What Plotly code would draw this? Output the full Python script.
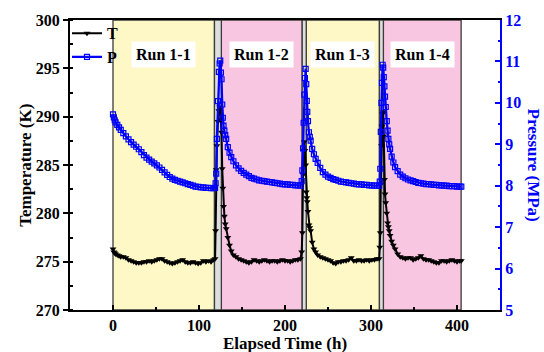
import plotly.graph_objects as go

# ---------------- data ----------------
hours = [
    0, 1, 2, 3, 5, 7, 9, 12, 15, 18, 21, 24, 27, 30, 33, 36, 39, 42, 45, 48,
    51, 54, 57, 60, 63, 66, 69, 72, 75, 78, 81, 84, 87, 90, 93, 96, 99, 102,
    105, 108, 111, 114, 117, 118.7,
    119.3, 120.0, 120.8, 122.0, 123.1, 124.0, 124.7, 125.5, 126.2, 127.0,
    127.7, 128.5, 129.5, 130.5, 131.6, 133.5, 135.5, 137.5, 140, 143, 146,
    149, 152, 155, 158, 161, 164, 167, 170, 173, 176, 179, 182, 185, 188,
    191, 194, 197, 200, 203, 206, 209, 212, 215, 218, 219.4,
    220.2, 221.0, 221.7, 222.5, 223.2, 224.0, 224.7, 225.3, 225.9, 226.7,
    227.8, 228.8, 229.8, 231.6, 233.6, 235.6, 238, 241, 244, 247, 250, 253,
    256, 259, 262, 265, 268, 271, 274, 277, 280, 283, 286, 289, 292, 295,
    298, 301, 304, 307, 309.5,
    310.2, 310.8, 311.4, 312.2, 312.8, 313.5, 314.2, 314.8, 315.6, 316.3,
    317.1, 318.3, 319.3, 320.2, 321.2, 322.2, 324, 326, 328, 331, 334, 337,
    340, 343, 346, 349, 352, 355, 358, 361, 364, 367, 370, 373, 376, 379,
    382, 385, 388, 391, 394, 397, 400, 403, 405,
]

temperature = [
    276.3, 276.0, 275.9, 275.8, 275.7, 275.6, 275.5, 275.5, 275.4, 275.2,
    275.1, 275.0, 274.9, 274.9, 274.9, 275.0, 275.0, 275.1, 275.0, 275.1,
    275.2, 275.3, 275.3, 275.1, 275.0, 274.9, 274.8, 274.9, 275.0, 275.1,
    275.2, 275.0, 274.9, 274.9, 275.0, 274.9, 274.8, 274.9, 275.1, 275.0,
    275.1, 275.0, 275.2, 275.3,
    278.2, 284.5, 287.0, 289.5, 290.6, 291.0, 290.8, 289.7, 288.4, 284.6,
    282.6, 280.7, 279.7, 278.9, 278.4, 277.5, 276.7, 276.1, 275.7, 275.5,
    275.3, 275.2, 275.1, 275.0, 274.9, 275.0, 275.2, 275.1, 275.0, 275.1,
    275.2, 275.1, 275.0, 275.1, 275.1, 275.0, 275.1, 275.2, 275.1, 275.1,
    275.0, 275.1, 275.2, 275.2, 275.3, 276.0,
    278.0, 284.0, 286.5, 287.4, 286.5, 285.0, 282.2, 281.6, 281.2, 280.2,
    278.8, 278.5, 278.2, 277.0, 276.3, 276.0, 275.7, 275.5, 275.4, 275.3,
    275.2, 275.1, 274.9, 274.8, 275.0, 275.0, 275.1, 275.1, 275.2, 275.4,
    275.1, 275.1, 275.2, 275.1, 275.1, 275.2, 275.1, 275.2, 275.2, 275.3,
    275.3,
    276.5, 278.0, 283.0, 287.0, 289.0, 290.3, 290.5, 288.0, 283.5, 282.0,
    281.1, 280.0, 279.0, 278.6, 278.2, 277.7, 277.1, 276.7, 276.3, 275.8,
    275.5, 275.4, 275.3, 275.4, 275.4, 275.2, 275.3, 275.4, 275.6, 275.3,
    275.2, 275.2, 275.1, 275.0, 274.9, 274.9, 275.1, 275.1, 275.0, 275.1,
    275.2, 275.1, 275.0, 275.1, 275.1,
]

pressure = [
    9.72, 9.65, 9.58, 9.53, 9.47, 9.41, 9.35, 9.27, 9.19, 9.12, 9.05, 8.99,
    8.94, 8.88, 8.81, 8.74, 8.68, 8.63, 8.58, 8.54, 8.49, 8.44, 8.38, 8.32,
    8.26, 8.21, 8.17, 8.14, 8.12, 8.10, 8.08, 8.06, 8.04, 8.02, 8.00, 7.98,
    7.97, 7.96, 7.96, 7.95, 7.95, 7.94, 7.94, 7.95,
    8.06, 8.29, 9.13, 10.04, 10.75, 10.95, 11.02, 10.73, 10.57, 9.96, 9.64,
    9.45, 9.33, 9.22, 9.13, 8.93, 8.80, 8.69, 8.59, 8.49, 8.42, 8.36, 8.31,
    8.27, 8.23, 8.19, 8.17, 8.15, 8.13, 8.12, 8.11, 8.10, 8.09, 8.08, 8.07,
    8.06, 8.05, 8.04, 8.03, 8.03, 8.02, 8.02, 8.01, 8.01, 8.00, 8.11,
    8.37, 8.90, 9.52, 10.20, 10.60, 10.82, 10.45, 10.05, 9.78, 9.56, 9.29,
    9.18, 9.09, 8.89, 8.76, 8.65, 8.55, 8.43, 8.33, 8.27, 8.22, 8.19, 8.16,
    8.14, 8.12, 8.10, 8.09, 8.08, 8.07, 8.06, 8.05, 8.04, 8.03, 8.03, 8.02,
    8.02, 8.01, 8.01, 8.00, 8.00, 8.00,
    8.10, 8.41, 9.30, 10.00, 10.48, 10.92, 10.85, 10.62, 10.40, 10.15, 9.90,
    9.56, 9.33, 9.13, 9.00, 8.89, 8.70, 8.56, 8.45, 8.35, 8.27, 8.22, 8.18,
    8.15, 8.13, 8.11, 8.09, 8.07, 8.06, 8.05, 8.04, 8.04, 8.03, 8.02, 8.02,
    8.01, 8.01, 8.00, 8.00, 7.99, 7.99, 7.99, 7.98, 7.98, 7.98,
]

run_labels = ["Run 1-1", "Run 1-2", "Run 1-3", "Run 1-4"]
run_starts = [0, 126, 224.7, 314.4]
run_ends = [118, 220, 309.8, 404.8]
run_colors = ["#FEF7C6", "#F8C6E1", "#FEF7C6", "#F8C6E1"]

x_range = [-50, 450]
t_range = [270, 300]
p_range = [5, 12]

# ---------------- figure ----------------
FONT = "Liberation Serif"
BLUE = "#0000FF"

fig = go.Figure()

fig.add_trace(go.Scatter(
    x=hours, y=temperature, name="T", mode="lines+markers",
    line=dict(color="black", width=2),
    marker=dict(symbol="triangle-down", size=6, color="black"),
))
fig.add_trace(go.Scatter(
    x=hours, y=pressure, name="P", mode="lines+markers", yaxis="y2",
    line=dict(color=BLUE, width=2.3),
    marker=dict(symbol="square-open", size=5, color=BLUE,
                line=dict(width=1.2, color=BLUE)),
))

shapes = []
for s, e, c in zip(run_starts, run_ends, run_colors):
    shapes.append(dict(type="rect", xref="x", yref="paper", x0=s, x1=e,
                       y0=0, y1=1, fillcolor=c, layer="below",
                       line=dict(color="#3c3c3c", width=1.3)))
for e, s in zip(run_ends[:-1], run_starts[1:]):
    shapes.append(dict(type="rect", xref="x", yref="paper", x0=e, x1=s,
                       y0=0, y1=1, fillcolor="#DEDEDE", layer="below",
                       line=dict(color="#3c3c3c", width=1.3)))

annotations = []
for lab, s, e in zip(run_labels, run_starts, run_ends):
    annotations.append(dict(
        x=(s + e) / 2, y=0.882, xref="x", yref="paper", text="<b>%s</b>" % lab,
        xanchor="center", yanchor="middle",
        showarrow=False, bgcolor="white", borderpad=4,
        font=dict(family=FONT, size=16, color="black"),
    ))
annotations += [
    dict(x=-0.105, y=0.5, xref="paper", yref="paper", textangle=-90,
         xanchor="center", yanchor="middle",
         text="<b>Temperature (K)</b>", showarrow=False,
         font=dict(family=FONT, size=17, color="black")),
    dict(x=1.08, y=0.5, xref="paper", yref="paper", textangle=90,
         xanchor="center", yanchor="middle",
         text="<b>Pressure (MPa)</b>", showarrow=False,
         font=dict(family=FONT, size=17, color=BLUE)),
    dict(x=0.5, y=-0.116, xref="paper", yref="paper",
         xanchor="center", yanchor="middle",
         text="<b>Elapsed Time (h)</b>", showarrow=False,
         font=dict(family=FONT, size=17, color="black")),
]

fig.update_layout(
    width=544, height=352,
    margin=dict(l=70, r=44, t=16, b=42),
    paper_bgcolor="white", plot_bgcolor="white",
    shapes=shapes, annotations=annotations,
    showlegend=True,
    legend=dict(x=-0.007, y=0.913, xanchor="left", yanchor="middle",
                bgcolor="rgba(0,0,0,0)", borderwidth=0,
                font=dict(family=FONT, size=16, color="black", weight="bold"),
                itemwidth=30, tracegroupgap=0),
    xaxis=dict(range=x_range, dtick=100, tick0=0, showgrid=False,
               zeroline=False, showline=True, linecolor="black", linewidth=2,
               mirror=True, ticks="inside", ticklen=5, tickwidth=1.5,
               tickcolor="black",
               minor=dict(ticks="inside", ticklen=3, dtick=50, tickwidth=1.5,
                          tickcolor="black"),
               tickfont=dict(family=FONT, size=16, color="black",
                             weight="bold")),
    yaxis=dict(range=t_range, dtick=5, showgrid=False, zeroline=False,
               showline=True, linecolor="black", linewidth=2,
               ticks="outside", ticklen=5, tickwidth=1.5, tickcolor="black",
               minor=dict(ticks="inside", ticklen=3, dtick=2.5, tickwidth=1.5,
                          tickcolor="black"),
               tickfont=dict(family=FONT, size=16, color="black",
                             weight="bold")),
    yaxis2=dict(range=p_range, dtick=1, overlaying="y", side="right",
                showgrid=False, zeroline=False, showline=True,
                linecolor=BLUE, linewidth=2,
                ticks="inside", ticklen=5, tickwidth=1.5, tickcolor=BLUE,
                minor=dict(ticks="inside", ticklen=2.5, dtick=0.5,
                           tickwidth=1.5, tickcolor=BLUE),
                tickfont=dict(family=FONT, size=16, color=BLUE,
                              weight="bold")),
)

# remove the browser's default page margin so the 544x352 figure fills the window
fig.write_html("out.html", config={"displayModeBar": False},
               post_script="document.body.style.margin='0';")
